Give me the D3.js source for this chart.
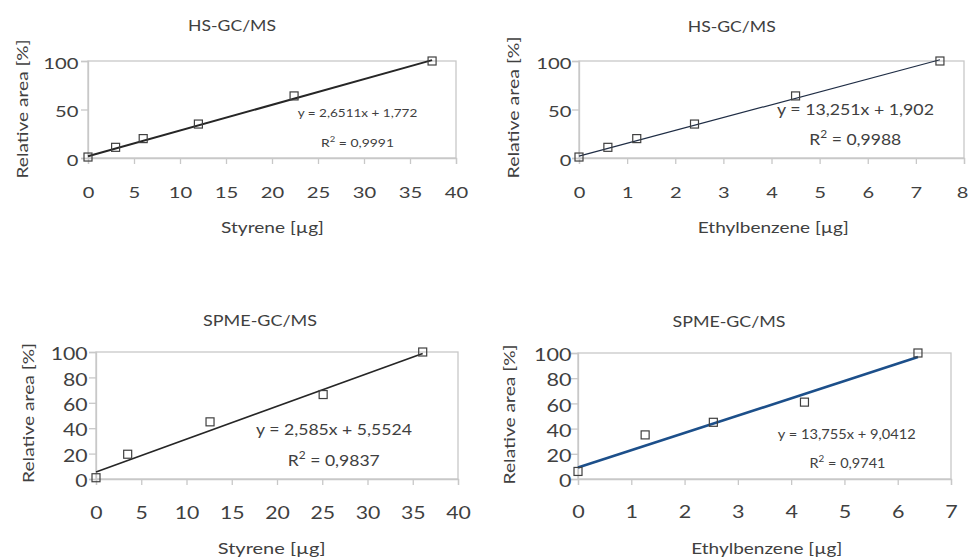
<!DOCTYPE html>
<head>
  <meta charset="utf-8">
  <script src="https://d3js.org/d3.v7.min.js"></script>
  <style>
    body { margin:0; padding:0; background:#fff; }
    text { font-family: Lato, "Open Sans", sans-serif; fill:#404040; }
  </style>
</head>
<body>
  <svg id="chart" width="969" height="557"></svg>
  <script>
    // data
    var styreneHS   = [0, 3, 6, 12, 22.4, 37.4];
    var areaHS      = [1, 11, 20, 35, 64, 100];
    var ethylHS     = [0, 0.6, 1.2, 2.4, 4.5, 7.5];
    var styreneSPME = [0, 3.5, 12.6, 25.1, 36.1];
    var areaStySPME = [1, 19.5, 45, 66.5, 100];
    var ethylSPME   = [0, 1.26, 2.54, 4.25, 6.38];
    var areaEthSPME = [6, 35, 45, 61, 100];

    var slopes     = [2.6511, 13.251, 2.585, 13.755];
    var intercepts = [1.772, 1.902, 5.5524, 9.0412];
    var eqLabels   = ["y = 2,6511x + 1,772", "y = 13,251x + 1,902", "y = 2,585x + 5,5524", "y = 13,755x + 9,0412"];
    var r2Labels   = ["0,9991", "0,9988", "0,9837", "0,9741"];
    var titles  = ["HS-GC/MS", "HS-GC/MS", "SPME-GC/MS", "SPME-GC/MS"];
    var xTitles = ["Styrene [µg]", "Ethylbenzene [µg]", "Styrene [µg]", "Ethylbenzene [µg]"];
    var xMax    = [40, 8, 40, 7];
    var xStep   = [5, 1, 5, 1];
    var yStep   = [50, 50, 20, 20];

    var svg = d3.select("#chart");
    var W = 969;

    // the picture is stretched sideways, so every text gets fitted to its width
    function stretch(t, x, y, w, rot) {
      var bw = t.node().getBBox().width;
      var s = w / bw;
      t.attr("transform", "translate(" + x + "," + y + ")" + (rot ? " rotate(" + rot + ")" : "") + " scale(" + s + ",1)");
      return t;
    }
    function label(g, txt, x, y, w, size, rot) {
      var t = g.append("text").attr("text-anchor", "middle").style("font-size", size + "px").text(txt);
      return stretch(t, x, y, w, rot);
    }

    // panel geometry
    var panels = [
      {l:88,  r:456, t:61,  b:158, xs:styreneHS,   ys:areaHS,      lineCol:"#262626", lineW:2,
       tick:15.3, adv:11.8, yPad:9.5, xBase:40,
       title:[232, 31, 88, 15], xt:[272.5, 233.3, 103, 15], yt:[28, 109, 139, 15.5],
       eq:[357.5, 116.7, 120, 11.5], r2:[357.5, 146.7, 73, 11.5]},
      {l:579, r:964, t:61,  b:158, xs:ethylHS,     ys:areaHS,      lineCol:"#1f2d45", lineW:1.2,
       tick:15.3, adv:11.8, yPad:7.5, xBase:40,
       title:[731.7, 32, 88, 15], xt:[773.3, 233.3, 151, 15], yt:[519, 107.5, 142, 15.5],
       eq:[855.5, 115, 157, 16], r2:[855.3, 145, 92, 16]},
      {l:96,  r:458, t:352, b:479, xs:styreneSPME, ys:areaStySPME, lineCol:"#262626", lineW:1.6,
       tick:17.3, adv:12.3, yPad:8.4, xBase:40,
       title:[260, 326, 114, 15.5], xt:[271.7, 553.5, 108, 15], yt:[34, 413, 140, 15.5],
       eq:[334, 435, 156, 15.5], r2:[333.8, 465.7, 92, 15.5]},
      {l:578, r:951, t:353, b:479, xs:ethylSPME,   ys:areaEthSPME, lineCol:"#1c4f8a", lineW:2.6,
       tick:17.3, adv:12.5, yPad:6.5, xBase:39,
       title:[729, 326.7, 113, 15.5], xt:[766.7, 553.5, 151, 15], yt:[515, 414.5, 140, 15.5],
       eq:[846.7, 439.3, 138, 14], r2:[847.5, 468.3, 76, 14]}
    ];

    panels.forEach(function(p, i) {
      var x = d3.scaleLinear().domain([0, xMax[i]]).range([p.l, p.r]);
      var y = d3.scaleLinear().domain([0, 100]).range([p.b, p.t]);
      var g = svg.append("g");

      // plot box
      g.append("rect").attr("x", p.l).attr("y", p.t)
        .attr("width", p.r - p.l).attr("height", p.b - p.t)
        .attr("fill", "none").attr("stroke", "#c8c8c8").attr("stroke-width", 1.3);

      var xAxis = d3.axisBottom(x).tickValues(d3.range(0, xMax[i] + 0.001, xStep[i]))
        .tickSize(6).tickFormat(d3.format("d"));
      var ax = g.append("g").attr("transform", "translate(0," + p.b + ")").call(xAxis);
      var yAxis = d3.axisLeft(y).tickValues(d3.range(0, 100.001, yStep[i])).tickSize(7);
      var ay = g.append("g").attr("transform", "translate(" + p.l + ",0)").call(yAxis);
      [ax, ay].forEach(function(a) {
        a.select(".domain").attr("stroke", "#c8c8c8").attr("stroke-width", 1.3);
        a.selectAll(".tick line").attr("stroke", "#c8c8c8").attr("stroke-width", 1.3);
        a.selectAll(".tick text").style("font-size", p.tick + "px").attr("fill", "#404040")
          .style("font-family", "Lato, sans-serif").attr("x", 0).attr("y", 0).attr("dy", null);
      });
      var digitH = p.tick * 0.72;
      ax.selectAll(".tick text").each(function(d) {
        var t = d3.select(this);
        var w = t.text().length * p.adv;
        // keep the last label inside the page
        var dx = Math.min(0, (W - 1) - (x(d) + w / 2));
        stretch(t, dx, p.xBase, w);
      });
      ay.selectAll(".tick text").each(function(d) {
        var t = d3.select(this);
        stretch(t, -p.yPad, digitH / 2 + 1.5, t.text().length * p.adv);
      });

      // trend line
      var xe = d3.max(p.xs);
      g.append("line")
        .attr("x1", x(0)).attr("y1", y(intercepts[i]))
        .attr("x2", x(xe)).attr("y2", y(slopes[i] * xe + intercepts[i]))
        .attr("stroke", p.lineCol).attr("stroke-width", p.lineW);

      // markers
      g.selectAll("rect.pt").data(p.xs).enter().append("rect")
        .attr("class", "pt")
        .attr("x", function(d) { return x(d) - 4; })
        .attr("y", function(d, j) { return y(p.ys[j]) - 4; })
        .attr("width", 8).attr("height", 8)
        .attr("fill", "none")
        .attr("stroke", "#404040").attr("stroke-width", 1.2);

      // texts
      label(g, titles[i], p.title[0], p.title[1], p.title[2], p.title[3]);
      label(g, xTitles[i], p.xt[0], p.xt[1], p.xt[2], p.xt[3]);
      label(g, "Relative area [%]", p.yt[0], p.yt[1], p.yt[2], p.yt[3], -90);
      label(g, eqLabels[i], p.eq[0], p.eq[1], p.eq[2], p.eq[3]);

      var fs = p.r2[3];
      var r = g.append("text").attr("text-anchor", "middle").style("font-size", fs + "px");
      r.append("tspan").text("R");
      r.append("tspan").attr("dy", -fs * 0.45).style("font-size", (fs * 0.68) + "px").text("2");
      r.append("tspan").attr("dy", fs * 0.45).text(" = " + r2Labels[i]);
      stretch(r, p.r2[0], p.r2[1], p.r2[2]);
    });
  </script>
</body>
